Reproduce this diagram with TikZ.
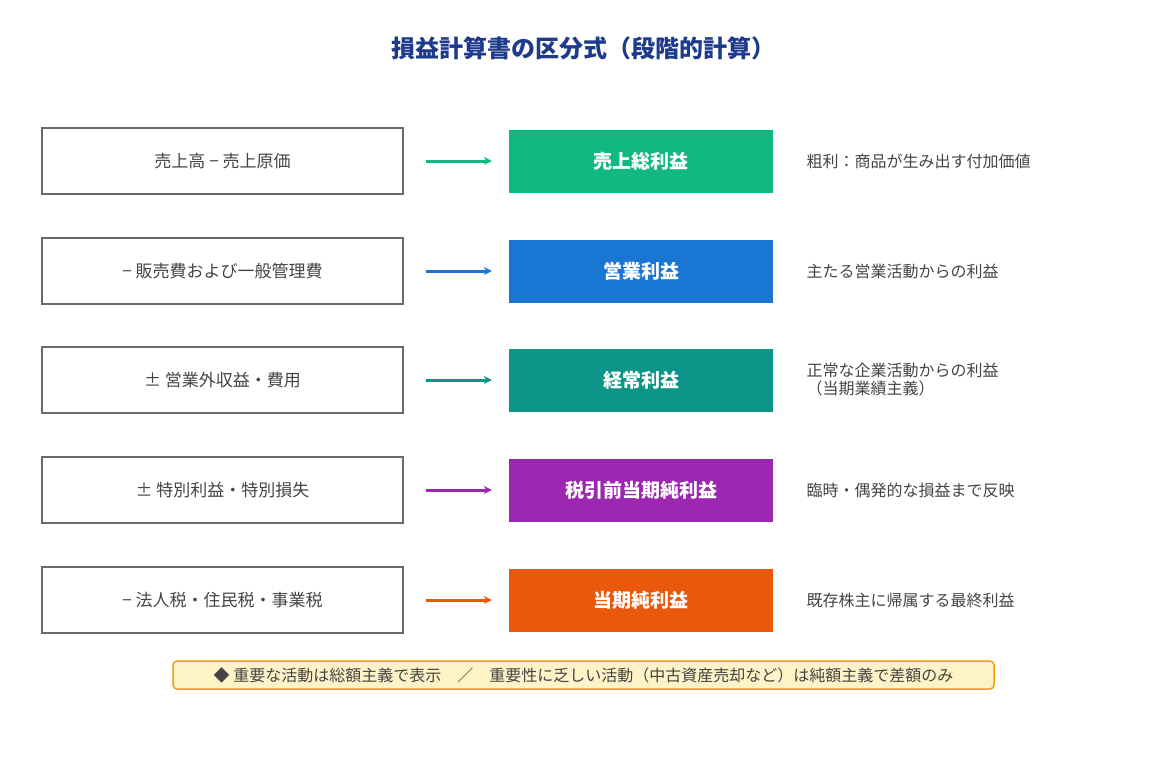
\documentclass[tikz,border=0pt]{standalone}
\usepackage{fontspec}
\setmainfont{Noto Sans CJK JP}
\usetikzlibrary{arrows.meta,positioning}
\definecolor{Ttl}{RGB}{30,58,138}
\definecolor{Gr}{RGB}{16,185,129}
\definecolor{Bl}{RGB}{25,118,210}
\definecolor{Tl}{RGB}{13,148,136}
\definecolor{Pu}{RGB}{156,39,176}
\definecolor{Or}{RGB}{234,88,12}
\definecolor{Tx}{RGB}{68,68,68}
\definecolor{NoteF}{RGB}{254,243,199}
\definecolor{NoteB}{RGB}{245,158,11}
\tikzset{
  calcbox/.style={draw=Tx!80, line width=1.2pt, minimum width=361pt, minimum height=66pt, font=\fontsize{17}{20}\selectfont, text=Tx},
  resbox/.style={fill=#1, minimum width=264pt, minimum height=63pt, font=\fontsize{19}{22}\selectfont\bfseries, text=white},
  desc/.style={anchor=west, align=left, font=\fontsize{16}{18}\selectfont, text=Tx},
  flow/.style={-{Stealth[length=8pt,width=8pt]}, line width=3pt, #1}
}
\begin{document}
\begin{tikzpicture}[x=1pt,y=-1pt]
  \useasboundingbox (0,0) rectangle (1167,761);
  \node[font=\fontsize{24}{28}\selectfont\bfseries, text=Ttl] (title) at (583,48) {損益計算書の区分式（段階的計算）};
  % rows
  \node[calcbox] (c1) at (222.5,161) {売上高 − 売上原価};
  \node[calcbox] (c2) at (222.5,271) {− 販売費および一般管理費};
  \node[calcbox] (c3) at (222.5,380) {± 営業外収益・費用};
  \node[calcbox] (c4) at (222.5,490) {± 特別利益・特別損失};
  \node[calcbox] (c5) at (222.5,600) {− 法人税・住民税・事業税};
  \node[resbox=Gr] (r1) at (641,161) {売上総利益};
  \node[resbox=Bl] (r2) at (641,271) {営業利益};
  \node[resbox=Tl] (r3) at (641,380) {経常利益};
  \node[resbox=Pu] (r4) at (641,490) {税引前当期純利益};
  \node[resbox=Or] (r5) at (641,600) {当期純利益};
  \draw[flow=Gr] (c1.east) ++(22,0) coordinate (a1) -- ([xshift=-17pt]r1.west);
  \draw[flow=Bl] (c2.east) ++(22,0) coordinate (a2) -- ([xshift=-17pt]r2.west);
  \draw[flow=Tl] (c3.east) ++(22,0) coordinate (a3) -- ([xshift=-17pt]r3.west);
  \draw[flow=Pu] (c4.east) ++(22,0) coordinate (a4) -- ([xshift=-17pt]r4.west);
  \draw[flow=Or] (c5.east) ++(22,0) coordinate (a5) -- ([xshift=-17pt]r5.west);
  \node[desc, right=30pt of r1] (d1) {粗利：商品が生み出す付加価値};
  \node[desc, right=30pt of r2] (d2) {主たる営業活動からの利益};
  \node[desc, right=30pt of r3] (d3) {正常な企業活動からの利益\\（当期業績主義）};
  \node[desc, right=30pt of r4] (d4) {臨時・偶発的な損益まで反映};
  \node[desc, right=30pt of r5] (d5) {既存株主に帰属する最終利益};
  % note
  \node[fill=NoteF, draw=NoteB, line width=1.5pt, rounded corners=4pt, minimum width=821pt, minimum height=28pt, inner sep=2pt, font=\fontsize{16}{18}\selectfont, text=Tx] (note) at (583.5,675)
    {◆ 重要な活動は総額主義で表示　／　重要性に乏しい活動（中古資産売却など）は純額主義で差額のみ};
\end{tikzpicture}
\end{document}
